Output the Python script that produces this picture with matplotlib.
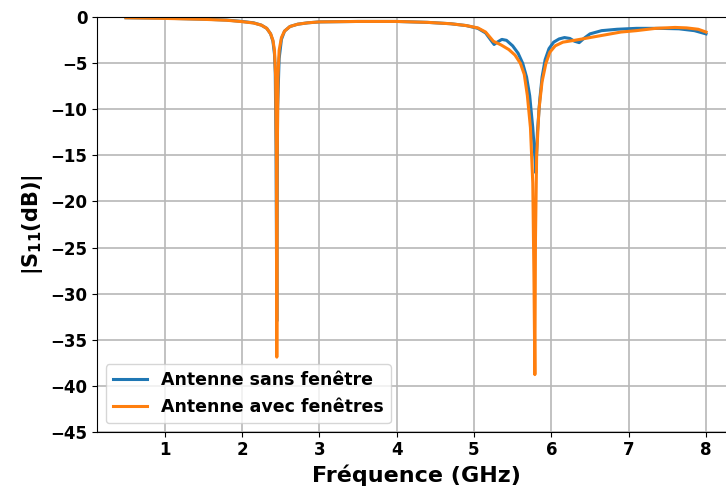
import numpy as np
from matplotlib import pyplot as plt

# Antenne sans fenêtre
freq_sans = [0.5, 1.0, 1.5, 1.8, 2.0, 2.15, 2.25, 2.32, 2.37, 2.40, 2.42, 2.43,
             2.44, 2.45, 2.46, 2.48, 2.51, 2.55, 2.62, 2.72, 2.85, 3.0, 3.5, 4.0,
             4.4, 4.7, 4.9, 5.05, 5.15, 5.22, 5.26, 5.30, 5.36, 5.42, 5.50, 5.57,
             5.63, 5.68, 5.72, 5.76, 5.79, 5.80, 5.82, 5.85, 5.88, 5.92, 5.97,
             6.03, 6.10, 6.17, 6.24, 6.30, 6.36, 6.42, 6.50, 6.65, 6.85, 7.1,
             7.4, 7.65, 7.85, 8.0]
s11_sans = [-0.05, -0.1, -0.2, -0.3, -0.45, -0.6, -0.85, -1.2, -1.8, -2.6, -4.0,
            -6.0, -14.0, -33.0, -10.0, -4.5, -2.4, -1.5, -1.0, -0.75, -0.6, -0.5,
            -0.45, -0.45, -0.55, -0.7, -0.9, -1.2, -1.7, -2.5, -2.95, -2.7, -2.4,
            -2.5, -3.1, -3.9, -5.0, -6.5, -8.5, -12.0, -15.5, -16.9, -12.5, -9.0,
            -6.5, -4.6, -3.4, -2.7, -2.35, -2.2, -2.3, -2.6, -2.75, -2.3, -1.8,
            -1.45, -1.3, -1.2, -1.2, -1.25, -1.45, -1.8]

# Antenne avec fenêtres
freq_avec = [0.5, 1.0, 1.5, 1.8, 2.0, 2.15, 2.25, 2.32, 2.37, 2.40, 2.42, 2.435,
             2.445, 2.45, 2.455, 2.465, 2.48, 2.51, 2.55, 2.62, 2.72, 2.85, 3.0,
             3.5, 4.0, 4.4, 4.7, 4.9, 5.05, 5.15, 5.25, 5.35, 5.45, 5.53, 5.60,
             5.65, 5.69, 5.73, 5.76, 5.775, 5.787, 5.795, 5.81, 5.84, 5.88, 5.93,
             5.98, 6.05, 6.15, 6.3, 6.5, 6.7, 6.9, 7.1, 7.35, 7.6, 7.75, 7.9, 8.0]
s11_avec = [-0.05, -0.12, -0.22, -0.32, -0.47, -0.62, -0.85, -1.2, -1.8, -2.5,
            -3.6, -6.5, -16.0, -36.9, -16.0, -6.5, -3.6, -2.2, -1.5, -1.0, -0.75,
            -0.6, -0.5, -0.45, -0.45, -0.55, -0.7, -0.9, -1.15, -1.6, -2.6, -3.0,
            -3.5, -4.1, -5.0, -6.2, -8.5, -12.0, -18.0, -28.0, -38.8, -24.0,
            -15.0, -10.0, -7.0, -5.0, -3.8, -3.1, -2.7, -2.5, -2.2, -1.9, -1.6,
            -1.45, -1.2, -1.1, -1.15, -1.3, -1.6]

xticks = [1, 2, 3, 4, 5, 6, 7, 8]
yticks = [0, -5, -10, -15, -20, -25, -30, -35, -40, -45]

fig = plt.figure(figsize=(7.26, 4.94), dpi=100)
ax = fig.add_axes([97 / 726, (494 - 431.7) / 494, (735 - 97) / 726, (431.7 - 17.3) / 494])

ax.plot(freq_sans, s11_sans, color='tab:blue', lw=2.2, label='Antenne sans fenêtre')
ax.plot(freq_avec, s11_avec, color='tab:orange', lw=2.2, label='Antenne avec fenêtres')

ax.set_xlim(0.125, 8.375)
ax.set_ylim(-45, 0)
ax.set_xticks(xticks)
ax.set_yticks(yticks)
ax.grid(True, color='#b8b8b8', lw=1.2)
for lab in ax.get_xticklabels() + ax.get_yticklabels():
    lab.set_fontweight('bold')
    lab.set_fontsize(12)
ax.set_xlabel('Fréquence (GHz)', fontsize=16, fontweight='bold')
ax.set_ylabel(r'$\mathbf{|S_{11}(dB)|}$', fontsize=15, fontweight='bold')
ax.legend(loc='lower left', prop={'weight': 'bold', 'size': 12.5}, handlelength=2)

plt.savefig('out.png', dpi=100)
